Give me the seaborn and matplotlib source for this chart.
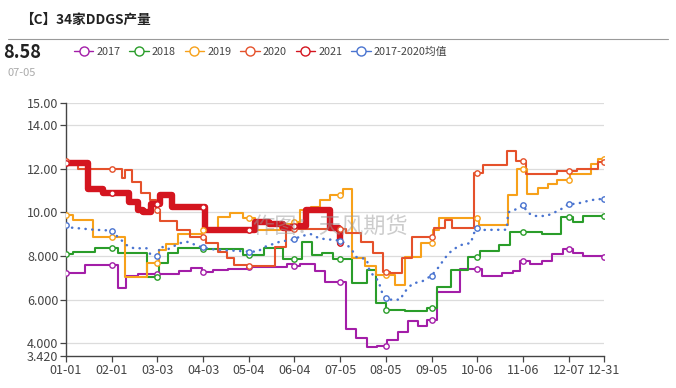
import numpy as np
import pandas as pd
import matplotlib
matplotlib.use("Agg")
import matplotlib.pyplot as plt
import seaborn as sns
from matplotlib.lines import Line2D

sns.set_theme(style="white")
plt.rcParams['font.family'] = ['Noto Sans CJK SC', 'DejaVu Sans']

# ---------------- data ----------------
tick_days = [0, 31, 62, 93, 124, 155, 186, 217, 248, 279, 310, 341, 365]
tick_labels = ['01-01', '02-01', '03-03', '04-03', '05-04', '06-04', '07-05',
               '08-05', '09-05', '10-06', '11-06', '12-07', '12-31']
y_ticks = [3.42, 4, 6, 8, 10, 12, 14, 15]
y_tick_labels = ['3.420', '4.000', '6.000', '8.000', '10.00', '12.00', '14.00', '15.00']

days_2017 = [0, 13, 35, 41, 49, 77, 85, 92, 100, 110, 123, 150, 154, 159, 169, 176, 190, 197,
             204, 211, 218, 225, 232, 239, 245, 252, 267, 282, 296, 303, 308, 315, 323, 330,
             337, 344, 351, 365]
vals_2017 = [7.22, 7.58, 6.55, 7.08, 7.16, 7.33, 7.45, 7.28, 7.35, 7.42, 7.5, 7.62, 7.52, 7.65,
             7.3, 6.8, 4.65, 4.25, 3.82, 3.9, 4.15, 4.5, 5.0, 4.78, 5.07, 6.35, 7.4, 7.08, 7.2,
             7.3, 7.78, 7.63, 7.78, 8.1, 8.3, 8.15, 8.0, 7.96]

days_2018 = [0, 5, 20, 35, 55, 63, 69, 76, 92, 120, 134, 147, 160, 167, 174, 181, 194, 204,
             210, 217, 230, 245, 252, 261, 273, 281, 294, 301, 323, 336, 344, 351, 365]
vals_2018 = [8.08, 8.18, 8.38, 8.15, 7.02, 7.68, 8.12, 8.36, 8.3, 8.05, 8.36, 7.85, 8.62,
             8.05, 8.12, 7.88, 6.75, 7.35, 5.83, 5.53, 5.5, 5.6, 6.6, 7.35, 7.96, 8.23, 8.5,
             9.1, 9.0, 9.8, 9.55, 9.85, 9.85]

days_2019 = [0, 5, 18, 40, 55, 63, 68, 76, 92, 103, 111, 120, 128, 145, 154, 159, 166, 172,
             179, 188, 194, 203, 210, 223, 230, 241, 249, 253, 280, 300, 306, 313, 320, 327,
             333, 342, 356, 361, 365]
vals_2019 = [9.86, 9.64, 8.85, 7.05, 7.66, 8.27, 8.55, 9.0, 9.2, 9.8, 9.97, 9.75, 9.2, 9.45,
             9.57, 10.1, 10.25, 10.56, 10.8, 11.05, 7.9, 7.55, 7.13, 6.67, 7.96, 8.58, 9.19,
             9.72, 9.4, 10.8, 12.0, 10.85, 11.1, 11.3, 11.47, 11.75, 12.2, 12.42, 12.42]

days_2020 = [0, 1, 8, 38, 40, 45, 51, 57, 61, 64, 75, 84, 95, 103, 109, 114, 124, 142, 149,
             190, 200, 208, 215, 220, 228, 235, 250, 257, 262, 277, 283, 299, 305, 312, 333,
             347, 361, 365]
vals_2020 = [12.36, 12.16, 12.0, 11.55, 11.95, 11.37, 10.87, 10.56, 10.1, 9.6, 9.2, 8.85,
             8.58, 8.2, 7.9, 7.6, 7.52, 8.4, 9.25, 9.04, 8.65, 8.12, 7.28, 7.2, 7.9, 8.88,
             9.27, 9.64, 9.3, 11.78, 12.15, 12.8, 12.33, 11.76, 11.9, 12.0, 12.3, 12.3]

days_2021 = [0, 15, 25, 43, 49, 52, 58, 64, 72, 94, 128, 138, 147, 154, 163, 179, 185, 186]
vals_2021 = [12.25, 11.05, 10.87, 10.48, 10.1, 10.02, 10.4, 10.8, 10.25, 9.2, 9.55, 9.45,
             9.28, 9.35, 10.1, 9.27, 9.2, 8.58]

days_avg = [0, 3, 19, 31, 33, 37, 41, 46, 55, 57, 62, 64, 69, 77, 82, 92, 100, 124, 130, 135,
            145, 155, 159, 166, 172, 186, 190, 194, 197, 204, 206, 212, 215, 218, 227, 229,
            235, 242, 248, 253, 257, 262, 268, 275, 276, 279, 282, 299, 300, 303, 310, 313,
            317, 326, 330, 335, 341, 346, 353, 360, 365]
vals_avg = [9.42, 9.3, 9.2, 9.16, 9.0, 8.76, 8.5, 8.35, 8.35, 8.1, 8.01, 8.45, 8.3, 8.58,
            8.65, 8.4, 8.3, 8.2, 8.2, 8.42, 8.65, 8.76, 8.9, 9.0, 8.8, 8.7, 8.56, 8.27, 7.95,
            7.85, 7.3, 6.85, 6.2, 6.0, 6.0, 6.3, 6.73, 6.85, 7.1, 7.5, 7.9, 8.27, 8.5, 8.6,
            8.96, 9.27, 9.19, 9.2, 10.0, 10.05, 10.33, 10.0, 9.83, 9.83, 9.95, 10.1, 10.38,
            10.38, 10.5, 10.6, 10.6]

series = [
    ('2017', days_2017, vals_2017, '#a31ea8', 1.5, 'step'),
    ('2018', days_2018, vals_2018, '#2a9d2a', 1.5, 'step'),
    ('2019', days_2019, vals_2019, '#f7a11a', 1.5, 'step'),
    ('2020', days_2020, vals_2020, '#e5512b', 1.5, 'step'),
    ('2021', days_2021, vals_2021, '#d4151f', 4.6, 'step'),
    ('2017-2020均值', days_avg, vals_avg, '#4a74d0', 1.8, 'dot'),
]

# ---------------- figure ----------------
W, H = 676, 388
fig = plt.figure(figsize=(W / 100, H / 100), dpi=100)
fig.patch.set_facecolor('white')
ax = fig.add_axes([66 / W, 1 - 356 / H, (604 - 66) / W, (356 - 103) / H])
ax.set_facecolor('white')

for name, d, v, col, lw, kind in series:
    df = pd.DataFrame({'day': d, 'val': v})
    if kind == 'step':
        sns.lineplot(data=df, x='day', y='val', ax=ax, color=col, lw=lw,
                     drawstyle='steps-post', estimator=None, sort=False, legend=False,
                     solid_joinstyle='round', zorder=3 if name != '2021' else 4)
        md = [t for t in tick_days if t <= d[-1]]
        idx = np.searchsorted(np.array(d), md, side='right') - 1
        mv = np.array(v)[idx]
    else:
        sns.lineplot(data=df, x='day', y='val', ax=ax, color=col, lw=lw,
                     estimator=None, sort=False, legend=False, zorder=5,
                     linestyle=(0, (0.1, 2.6)), dash_capstyle='round')
        md = tick_days
        mv = np.interp(md, d, v)
    ax.scatter(md, mv, s=15, facecolor='white', edgecolor=col, linewidth=1.0, zorder=6)

ax.set_xlim(0, 365)
ax.set_ylim(3.42, 15)
ax.set_xticks(tick_days)
ax.set_xticklabels(tick_labels)
ax.set_yticks(y_ticks)
ax.set_yticklabels(y_tick_labels)
ax.set_xlabel('')
ax.set_ylabel('')
ax.tick_params(axis='both', labelsize=9, colors='#444444', length=4, width=0.9,
               direction='out', pad=1.5)
ax.tick_params(axis='x', pad=2)
for t in ax.get_xticklabels() + ax.get_yticklabels():
    t.set_color('#444444')
for y in y_ticks[1:]:
    ax.axhline(y, color='#dcdcdc', lw=0.9, zorder=0)
for s in ['top', 'right']:
    ax.spines[s].set_visible(False)
for s in ['left', 'bottom']:
    ax.spines[s].set_color('#444444')
    ax.spines[s].set_linewidth(1.0)
ax.tick_params(axis='both', which='both', bottom=True, left=True)

# watermark
fig.text(252 / W, 1 - 227 / H, '作图：天风期货', fontsize=16, color='#9a9a9a', alpha=0.5,
         va='center', ha='left', zorder=10)

# header
fig.text(20 / W, 1 - 20 / H, '【C】34家DDGS产量', fontsize=9.8, weight='bold',
         color='#222222', va='center', ha='left')
fig.add_artist(Line2D([8 / W, 668 / W], [1 - 39 / H, 1 - 39 / H], color='#9a9a9a', lw=0.8))
fig.text(3 / W, 1 - 53 / H, '8.58', fontsize=13, weight='bold', color='#222222',
         va='center', ha='left')
fig.text(7 / W, 1 - 73 / H, '07-05', fontsize=8, color='#aaaaaa', va='center', ha='left')

handles = [Line2D([0], [0], color=c, lw=1.0, marker='o', markersize=6.5,
                  markerfacecolor='white', markeredgecolor=c, markeredgewidth=1.0)
           for _, _, _, c, _, _ in series]
labels = [s[0] for s in series]
fig.legend(handles, labels, loc='center left', bbox_to_anchor=(64 / W, 1 - 52 / H),
           ncol=6, frameon=False, fontsize=7.8, handlelength=1.8, handletextpad=0.3,
           columnspacing=0.8, labelcolor='#444444')

fig.savefig('out.png', dpi=100, facecolor='white')
